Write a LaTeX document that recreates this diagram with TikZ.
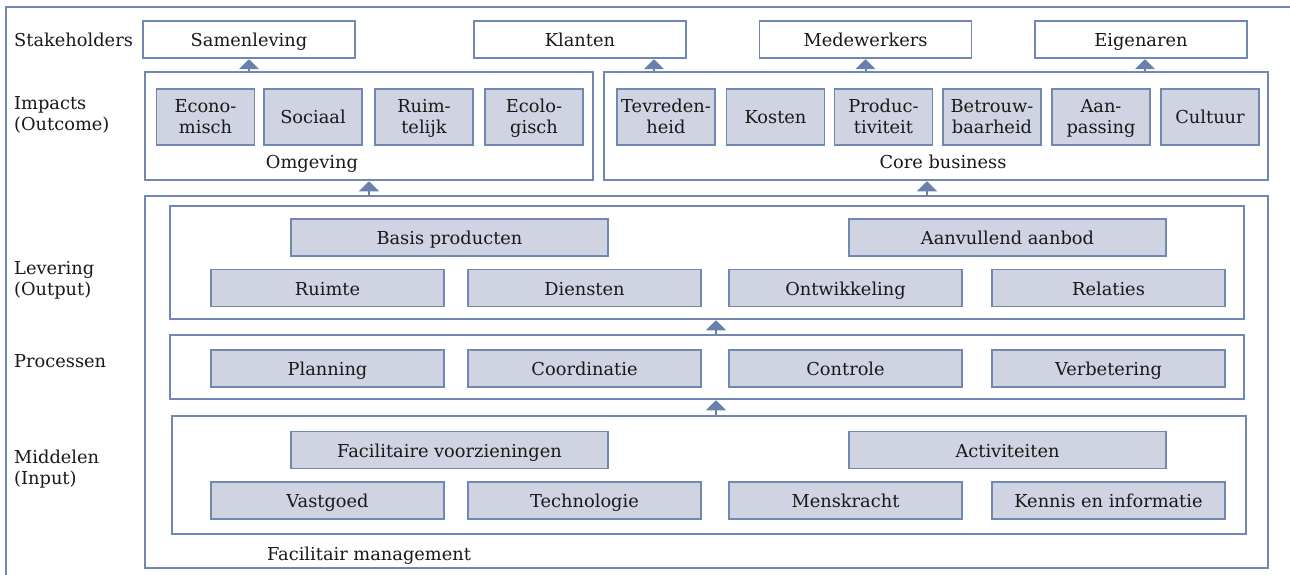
\documentclass[tikz,border=0pt]{standalone}
\usepackage{fontspec}
\setmainfont{DejaVu Serif}
\usetikzlibrary{arrows.meta}
\definecolor{bline}{RGB}{112,136,178}
\definecolor{bfill}{RGB}{207,211,226}
\definecolor{afill}{RGB}{104,128,170}
\definecolor{tcol}{RGB}{25,25,25}
\newcommand{\twolines}[2]{\rule{0pt}{16pt}#1\\#2\rule[-4pt]{0pt}{4pt}}
\tikzset{
  every node/.style={text=tcol, font=\fontsize{17.8}{21}\selectfont, inner sep=0pt, text height=14pt, text depth=0pt},
  multi/.style={text height={}, text depth={}},
  frame/.style={draw=bline, line width=1.3pt, fill=white},
  wbox/.style={draw=bline, line width=1.3pt, fill=white, minimum height=37pt},
  gbox/.style={draw=bline, line width=1.3pt, fill=bfill},
  imp/.style={gbox, multi, minimum width=98pt, minimum height=56pt, align=center},
  wide/.style={gbox, minimum width=233pt, minimum height=37pt},
  top/.style={gbox, minimum width=317pt, minimum height=37pt},
  lbl/.style={anchor=west, align=left},
  up/.style={draw=afill, line width=2pt, -{Triangle[width=20pt,length=10pt]}, shorten >=0.6pt},
}
\begin{document}
\begin{tikzpicture}[x=1pt,y=-1pt]
\useasboundingbox (0,0) rectangle (1290,575);
% outer frame
\draw[bline, line width=1.3pt] (6,575) -- (6,7) -- (1290,7);

% left labels
\node[lbl] (l1) at (14,40) {Stakeholders};
\node[lbl, multi] (l2) at (14,114.5) {\twolines{Impacts}{(Outcome)}};
\node[lbl, multi] (l3) at (14,278.5) {\twolines{Levering}{(Output)}};
\node[lbl] (l4) at (14,360) {Processen};
\node[lbl, multi] (l5) at (14,467.5) {\twolines{Middelen}{(Input)}};

% stakeholders
\node[wbox, minimum width=212pt] (sam) at (249,39.5) {Samenleving};
\node[wbox, minimum width=212pt] (kla) at (580,39.5) {Klanten};
\node[wbox, minimum width=212pt] (med) at (865.5,39.5) {Medewerkers};
\node[wbox, minimum width=212pt] (eig) at (1141,39.5) {Eigenaren};

% impacts frames
\node[frame, minimum width=448pt, minimum height=108pt] (omg) at (369,126) {};
\node[frame, minimum width=664pt, minimum height=108pt] (core) at (936,126) {};
\node (omgl) at (312,161) {Omgeving};
\node (corel) at (943,161) {Core business};

\node[imp] (eco) at (205.5,117) {\twolines{Econo-}{misch}};
\node[imp] (soc) at (313,117) {Sociaal};
\node[imp] (rui) at (424,117) {\twolines{Ruim-}{telijk}};
\node[imp] (ecl) at (534,117) {\twolines{Ecolo-}{gisch}};

\node[imp] (tev) at (666,117) {\twolines{Tevreden-}{heid}};
\node[imp] (kos) at (775.5,117) {Kosten};
\node[imp] (pro) at (883.5,117) {\twolines{Produc-}{tiviteit}};
\node[imp] (bet) at (992,117) {\twolines{Betrouw-}{baarheid}};
\node[imp] (aan) at (1101,117) {\twolines{Aan-}{passing}};
\node[imp] (cul) at (1210,117) {Cultuur};

% facilitair management
\node[frame, minimum width=1123pt, minimum height=372pt] (fm) at (706.5,382) {};
\node (fml) at (369,553) {Facilitair management};

% levering
\node[frame, minimum width=1074pt, minimum height=113pt] (lev) at (707,262.5) {};
\node[top] (bas) at (449.5,237.5) {Basis producten};
\node[top] (aav) at (1007.5,237.5) {Aanvullend aanbod};
\node[wide] (rmt) at (327.5,288) {Ruimte};
\node[wide] (die) at (584.5,288) {Diensten};
\node[wide] (ont) at (845.5,288) {Ontwikkeling};
\node[wide] (rel) at (1108.5,288) {Relaties};

% processen
\node[frame, minimum width=1074pt, minimum height=64pt] (proc) at (707,367) {};
\node[wide] (pla) at (327.5,368.5) {Planning};
\node[wide] (coo) at (584.5,368.5) {Coordinatie};
\node[wide] (con) at (845.5,368.5) {Controle};
\node[wide] (ver) at (1108.5,368.5) {Verbetering};

% middelen
\node[frame, minimum width=1074pt, minimum height=118pt] (mid) at (709,475) {};
\node[top] (fac) at (449.5,450) {Facilitaire voorzieningen};
\node[top] (act) at (1007.5,450) {Activiteiten};
\node[wide] (vas) at (327.5,500.5) {Vastgoed};
\node[wide] (tec) at (584.5,500.5) {Technologie};
\node[wide] (men) at (845.5,500.5) {Menskracht};
\node[wide] (ken) at (1108.5,500.5) {Kennis en informatie};

% arrows
\draw[up] (omg.north -| sam) -- (sam.south);
\draw[up] (core.north -| 654,0) -- (654,0 |- kla.south);
\draw[up] (core.north -| med) -- (med.south);
\draw[up] (core.north -| 1145,0) -- (1145,0 |- eig.south);
\draw[up] (fm.north -| omg) -- (omg.south);
\draw[up] (fm.north -| 927,0) -- (927,0 |- core.south);
\draw[up] (proc.north -| 716,0) -- (716,0 |- lev.south);
\draw[up] (mid.north -| 716,0) -- (716,0 |- proc.south);
\end{tikzpicture}
\end{document}
